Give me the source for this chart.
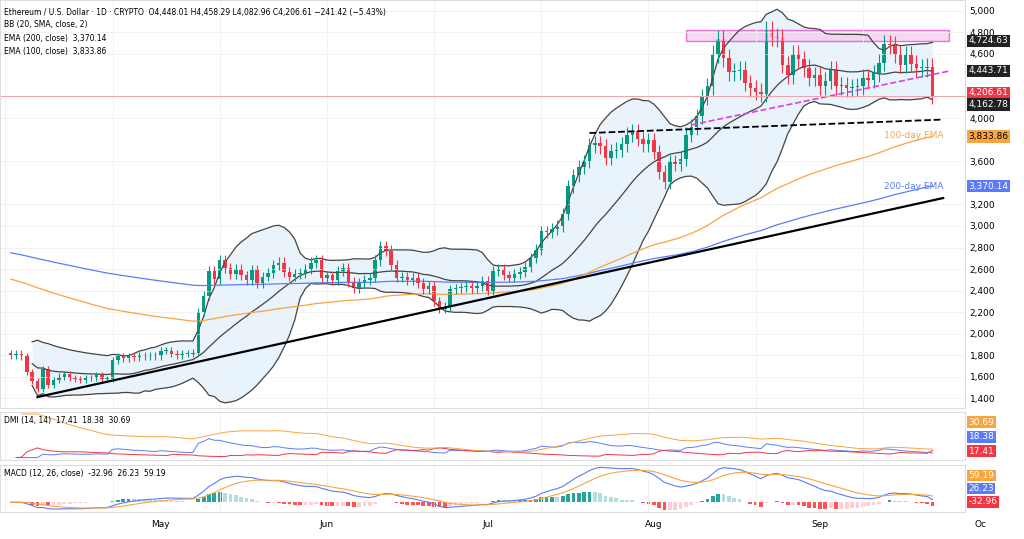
import numpy as np, pandas as pd, matplotlib
matplotlib.use("Agg")
import matplotlib.pyplot as plt, matplotlib.dates as mdates, seaborn as sns

apr = [1800,1810,1790,1640,1560,1480,1670,1520,1570,1600,1620,1590,1580,1570,1590,1590,1610,1580,1580,1750,1790,1770,1790,1780,1800,1790,1800,1790]
may = [1840,1840,1810,1800,1810,1810,1820,2200,2350,2580,2510,2680,2610,2550,2600,2540,2500,2590,2470,2530,2560,2640,2660,2570,2530,2550,2560,2600,2660,2680,2520]
jun = [2540,2500,2580,2610,2480,2420,2470,2500,2520,2680,2810,2770,2640,2520,2530,2500,2520,2470,2410,2440,2300,2230,2250,2410,2420,2430,2440,2420,2440,2490]
jul = [2400,2580,2600,2540,2520,2550,2570,2620,2700,2780,2950,2940,2970,3000,3110,3370,3470,3550,3600,3750,3770,3740,3630,3700,3710,3760,3850,3880,3810,3760,3800]
aug = [3690,3500,3410,3600,3580,3620,3850,3920,4020,4200,4300,4600,4740,4560,4430,4440,4450,4330,4280,4250,4230,4820,4760,4750,4500,4400,4600,4550,4470,4380,4400]
sep = [4300,4350,4450,4300,4310,4280,4290,4300,4380,4360,4420,4520,4690,4680,4600,4500,4590,4510,4470,4470,4480,4206]
ema200_seed, ema100_seed = 2760, 2520
wick_pct = 0.018
month_labels = ["May","Jun","Jul","Aug","Sep","Oc"]
price_ticks = [1400,1600,1800,2000,2200,2400,2600,2800,3000,3200,3600,4000,4600,4800,5000]

close = np.array(apr+may+jun+jul+aug+sep, float)
dates = pd.date_range("2025-04-03", periods=len(close))
opn = np.r_[close[0]*1.01, close[:-1]]
high = np.maximum(opn, close)*(1+wick_pct); low = np.minimum(opn, close)*(1-wick_pct)
df = pd.DataFrame(dict(date=dates, o=opn, h=high, l=low, c=close))
def ema(s, n, seed=None):
    a = 2/(n+1); out=[]; prev = seed if seed is not None else s[0]
    for v in s:
        prev = a*v+(1-a)*prev; out.append(prev)
    return np.array(out)
df["e200"] = ema(close,200,ema200_seed); df["e100"] = ema(close,100,ema100_seed)
r = df.c.rolling(20, min_periods=5)
df["mid"]=r.mean(); df["up"]=df.mid+2*r.std(ddof=0); df["lo"]=df.mid-2*r.std(ddof=0)
up = df.h.diff(); dn = -df.l.diff()
pdm = np.where((up>dn)&(up>0), up, 0); mdm = np.where((dn>up)&(dn>0), dn, 0)
tr = np.maximum(df.h-df.l, np.maximum(abs(df.h-df.c.shift()), abs(df.l-df.c.shift())))
rma = lambda x: pd.Series(x).ewm(alpha=1/14, adjust=False).mean()
atr = rma(tr); pdi = 100*rma(pdm)/atr; mdi = 100*rma(mdm)/atr
adx = rma(100*abs(pdi-mdi)/(pdi+mdi))
macd = ema(close,12)-ema(close,26); sig = ema(macd,9); hist = macd-sig

GREEN, RED = "#089981", "#f23645"
fig = plt.figure(figsize=(10.24,5.39), dpi=100)
ax = fig.add_axes([0,0.243,0.942,0.757]); ax2 = fig.add_axes([0,0.147,0.942,0.089], sharex=ax); ax3 = fig.add_axes([0,0.05,0.942,0.087], sharex=ax)
x = mdates.date2num(df.date)
ax.fill_between(x, df.lo, df.up, color="#e3f0fb", alpha=0.8, lw=0)
for col in ["up","mid","lo"]:
    sns.lineplot(x=x, y=df[col], ax=ax, color="#444", lw=0.9)
sns.lineplot(x=x, y=df.e200, ax=ax, color="#5b7cfa", lw=0.9)
sns.lineplot(x=x, y=df.e100, ax=ax, color="#f7a540", lw=0.9)
colors = np.where(df.c>=df.o, GREEN, RED)
ax.vlines(x, df.l, df.h, colors=colors, lw=0.8)
ax.bar(x, np.maximum(abs(df.c-df.o),8), bottom=np.minimum(df.o,df.c), color=colors, width=0.65)
d = lambda s: mdates.date2num(pd.Timestamp(s))
ax.add_patch(plt.Rectangle((d("2025-08-07"),4720), d("2025-09-25")-d("2025-08-07"), 100, fc="#f7c6f0", ec="#e040c0", lw=1, alpha=0.7))
ax.plot([d("2025-08-08"),d("2025-09-25")],[3940,4440], ls="--", color="#e040e0", lw=1.2)
ax.plot([d("2025-07-20"),d("2025-09-24")],[3865,3990], ls="--", color="black", lw=1.3)
ax.plot([d("2025-04-08"),d("2025-09-24")],[1409,3260], color="black", lw=1.6)
ax.axhline(close[-1], color="#f5a0a8", lw=0.7)
ax.text(d("2025-09-24"),3840,"100-day EMA",color="#f7a540",fontsize=6.5,va="center",ha="right")
ax.text(d("2025-09-24"),3370,"200-day EMA",color="#5b7cfa",fontsize=6.5,va="center",ha="right")
ax.set_ylim(1307,5102); ax.set_xlim(d("2025-04-01"), d("2025-09-28"))
ax.yaxis.tick_right(); ax.set_yticks(price_ticks)
ax.set_yticklabels([f"{v:,}" for v in price_ticks], fontsize=6.5)
ax.set_ylabel("")
for a_ in (ax,ax2,ax3):
    a_.grid(color="#f0f0f0", lw=0.6)
    for s in a_.spines.values(): s.set_color("#ddd")
    a_.tick_params(length=0, labelbottom=False)
for val,c,tc,pos in [(4724.63,"#222","white",4724),(4443.71,"#222","white",4443),(4206.61,RED,"white",4240),(4162.78,"#222","white",4130),(3833.86,"#f7a540","black",3833),(3370.14,"#5b7cfa","white",3370)]:
    ax.text(1.004,pos,f"{val:,.2f}",transform=ax.get_yaxis_transform(),fontsize=6.5,color=tc,va="center",bbox=dict(fc=c,ec="none",pad=1.2))
fig.text(0.004,0.985,"Ethereum / U.S. Dollar · 1D · CRYPTO  O4,448.01 H4,458.29 L4,082.96 C4,206.61 −241.42 (−5.43%)",fontsize=5.5,va="top")
fig.text(0.004,0.962,"BB (20, SMA, close, 2)\nEMA (200, close)  3,370.14\nEMA (100, close)  3,833.86",fontsize=5.5,va="top",linespacing=1.6)
sns.lineplot(x=x,y=pdi,ax=ax2,color="#5b7cfa",lw=0.7); sns.lineplot(x=x,y=mdi,ax=ax2,color="#f23645",lw=0.7); sns.lineplot(x=x,y=adx,ax=ax2,color="#f7a540",lw=0.7)
ax2.set_yticks([]); ax2.set_ylabel(""); ax2.text(0.004,0.92,"DMI (14, 14)  17.41  18.38  30.69",transform=ax2.transAxes,fontsize=5.5,va="top")
for yy,c,lab in [(0.78,"#f7a540","30.69"),(0.48,"#5b7cfa","18.38"),(0.18,RED,"17.41")]:
    ax2.text(1.004,yy,lab,transform=ax2.transAxes,fontsize=6.5,color="white",va="center",bbox=dict(fc=c,ec="none",pad=1.2))
hc = np.where(hist>=0, np.where(np.r_[0,np.diff(hist)]>=0,"#26a69a","#b2dfdb"), np.where(np.r_[0,np.diff(hist)]<0,"#ff5252","#ffcdd2"))
ax3.bar(x, hist, color=hc, width=0.7)
sns.lineplot(x=x,y=macd,ax=ax3,color="#5b7cfa",lw=0.8); sns.lineplot(x=x,y=sig,ax=ax3,color="#f7a540",lw=0.8)
ax3.set_yticks([]); ax3.set_ylabel(""); ax3.text(0.004,0.92,"MACD (12, 26, close)  -32.96  26.23  59.19",transform=ax3.transAxes,fontsize=5.5,va="top")
for yy,c,lab in [(0.78,"#f7a540","59.19"),(0.5,"#5b7cfa","26.23"),(0.22,RED,"-32.96")]:
    ax3.text(1.004,yy,lab,transform=ax3.transAxes,fontsize=6.5,color="white",va="center",bbox=dict(fc=c,ec="none",pad=1.0))
for m,lab in zip(["2025-05-01","2025-06-01","2025-07-01","2025-08-01","2025-09-01","2025-10-01"],month_labels):
    fig.text((d(m)-d("2025-04-01"))/(d("2025-09-28")-d("2025-04-01"))*0.942,0.022,lab,fontsize=6.5,ha="center")
fig.savefig("out.png", dpi=100)
